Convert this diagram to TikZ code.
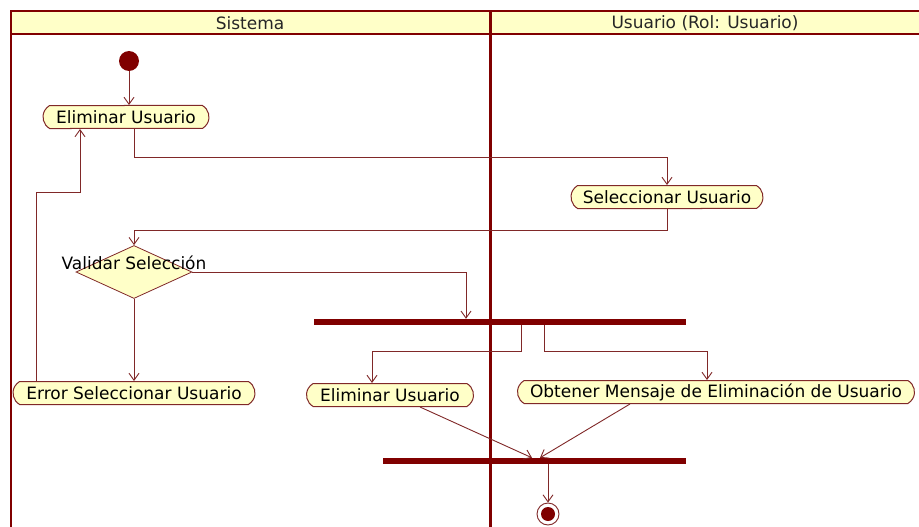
\documentclass[tikz,border=0pt]{standalone}
\usepackage{fontspec}
\setmainfont{DejaVu Sans}
\usetikzlibrary{shapes.misc,shapes.geometric,arrows.meta}
\definecolor{frame}{RGB}{128,0,0}
\definecolor{linec}{RGB}{128,40,40}
\definecolor{fillc}{RGB}{255,255,200}
\tikzset{
  act/.style={rounded rectangle, rounded rectangle arc length=120, draw=linec, fill=fillc, line width=1pt,
     minimum height=23, inner xsep=2, inner ysep=0, font=\fontsize{17}{20}\selectfont},
  arr/.style={draw=linec, line width=0.9pt, -{Straight Barb[length=7pt,width=10pt]}},
  bar/.style={rectangle, fill=frame, inner sep=0, minimum height=6},
  hdr/.style={font=\fontsize{17}{20}\selectfont, text=black!85},
}
\begin{document}
\begin{tikzpicture}[x=1pt,y=-1pt]
\useasboundingbox (0,0) rectangle (919,527);
\fill[white] (0,0) rectangle (919,527);
% header and frame
\fill[fillc] (11,11) rectangle (919,34);
\draw[frame, line width=2pt] (919,11) -- (11,11) -- (11,527);
\draw[frame, line width=2pt] (11,34) -- (919,34);
\draw[frame, line width=3pt] (490,11) -- (490,527);
\node[hdr] (h1) at (250,23) {Sistema};
\node[hdr] (h2) at (705,23) {Usuario (Rol: Usuario)};
% nodes
\node[circle, fill=frame, inner sep=0, minimum size=20] (start) at (129,61) {};
\node[act, minimum width=170] (e1) at (126,117) {Eliminar Usuario};
\node[act, minimum width=196] (sel) at (667,197) {Seleccionar Usuario};
\node[diamond, draw=linec, fill=fillc, line width=0.8pt, inner sep=0, minimum width=116, minimum height=53, aspect=2.2] (v) at (134,272) {};
\node[font=\fontsize{17}{20}\selectfont, inner sep=0] (vl) at (134,263) {Validar Selección};
\node[act, minimum width=246] (err) at (134,393) {Error Seleccionar Usuario};
\node[bar, minimum width=372] (fork1) at (500,322) {};
\node[act, minimum width=171] (e2) at (390,395) {Eliminar Usuario};
\node[act, minimum width=401] (obt) at (716,392) {Obtener Mensaje de Eliminación de Usuario};
\node[bar, minimum width=303] (join) at (534,461) {};
\node[circle, draw=linec, fill=white, line width=0.9pt, inner sep=0, minimum size=22] (end) at (548,514) {};
\fill[frame] (end.center) circle (7);
% connectors
\draw[arr] (start) -- (start |- e1.north);
\draw[arr] (v.north |- e1.south) -- (134,157) -| (sel.north);
\draw[arr] (sel.south) -- (667,230) -| (v.north);
\draw[arr] (v.east) -| ([xshift=-34]fork1.north);
\draw[arr] (v.south) -- (err.north);
\draw[arr] ([xshift=-98]err.north) |- (80,192) -- ([xshift=-46]e1.south);
\draw[arr] ([xshift=21]fork1.south) |- (372,351) -- ([xshift=-18]e2.north);
\draw[arr] ([xshift=44]fork1.south) |- (707,351) -- ([xshift=-9]obt.north);
\draw[arr] ([xshift=30]e2.south) -- ([xshift=-2]join.north);
\draw[arr] ([xshift=-86]obt.south) -- ([xshift=6]join.north);
\draw[arr] ([xshift=14]join.south) -- (end.north);
\end{tikzpicture}
\end{document}
